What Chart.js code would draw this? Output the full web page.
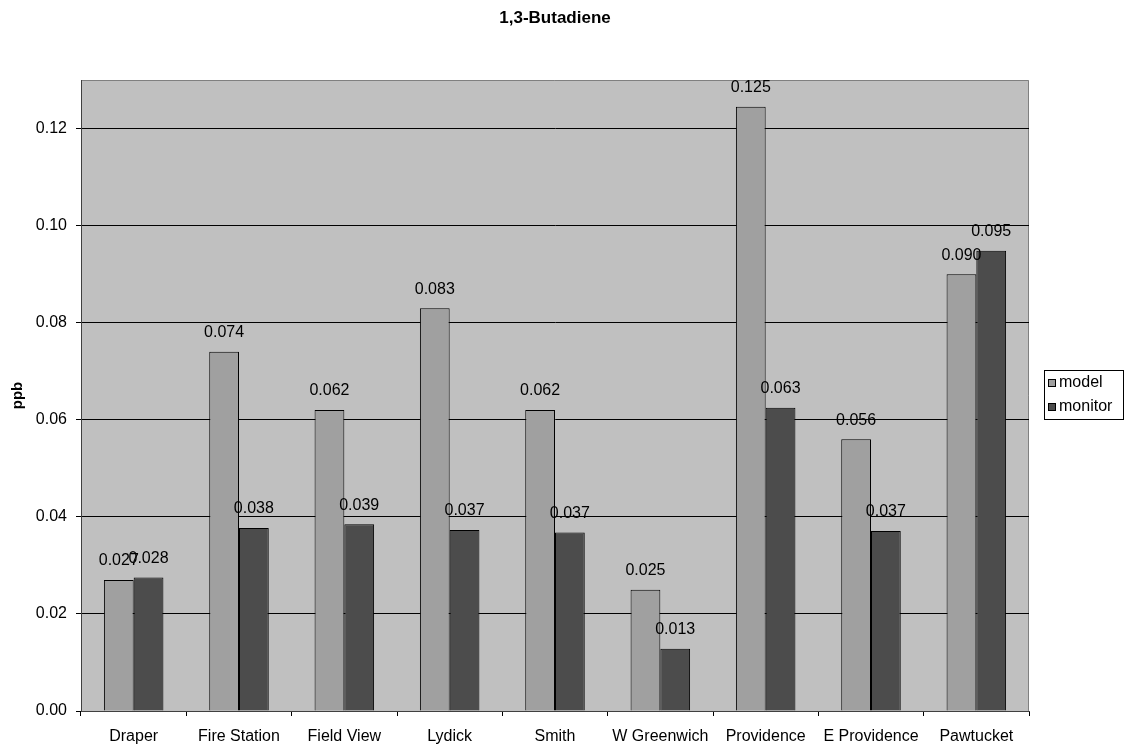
<!DOCTYPE html>
<html>
<head>
<meta charset="utf-8">
<script src="https://cdn.jsdelivr.net/npm/chart.js@4/dist/chart.umd.min.js"></script>
<style>
  html, body { margin: 0; padding: 0; background: #ffffff; }
  #wrap { width: 1127px; height: 746px; }
</style>
</head>
<body>
<div id="wrap"><canvas id="c" width="1127" height="746"></canvas></div>
<script>
const chartTitle = "1,3-Butadiene";
const yAxisTitle = "ppb";
const categories = ["Draper", "Fire Station", "Field View", "Lydick", "Smith", "W Greenwich", "Providence", "E Providence", "Pawtucket"];
const modelValues = [0.027, 0.074, 0.062, 0.083, 0.062, 0.025, 0.1245, 0.056, 0.090];
const monitorValues = [0.0275, 0.0377, 0.0385, 0.0373, 0.0368, 0.0128, 0.0625, 0.0371, 0.0948];
const seriesNames = ["model", "monitor"];
const modelLabels = ["0.027", "0.074", "0.062", "0.083", "0.062", "0.025", "0.125", "0.056", "0.090"];
const monitorLabels = ["0.028", "0.038", "0.039", "0.037", "0.037", "0.013", "0.063", "0.037", "0.095"];

const FONT = "'Liberation Sans', Arial, sans-serif";
const COLORS = ["#a0a0a0", "#4c4c4c"];

const decor = {
  id: 'decor',
  beforeDraw(chart) {
    const {ctx, chartArea: a} = chart;
    ctx.save();
    ctx.fillStyle = '#c0c0c0';
    ctx.fillRect(a.left, a.top, a.right - a.left, a.bottom - a.top);
    ctx.strokeStyle = '#808080';
    ctx.lineWidth = 1;
    ctx.beginPath();
    ctx.moveTo(a.left, a.top + 0.5);
    ctx.lineTo(a.right - 0.5, a.top + 0.5);
    ctx.lineTo(a.right - 0.5, a.bottom);
    ctx.stroke();
    ctx.restore();
  },
  afterDatasetsDraw(chart) {
    const {ctx} = chart;
    ctx.save();
    ctx.font = "16px " + FONT;
    ctx.fillStyle = '#000';
    ctx.textAlign = 'center';
    ctx.textBaseline = 'middle';
    const labelSets = [modelLabels, monitorLabels];
    chart.data.datasets.forEach((ds, di) => {
      const meta = chart.getDatasetMeta(di);
      meta.data.forEach((bar, i) => {
        ctx.fillText(labelSets[di][i], bar.x, bar.y - 19);
      });
    });
    ctx.restore();
  },
  afterDraw(chart) {
    const {ctx, chartArea: a} = chart;
    ctx.save();
    // title
    ctx.fillStyle = '#000';
    ctx.font = "bold 17px " + FONT;
    ctx.textAlign = 'center';
    ctx.textBaseline = 'middle';
    ctx.fillText(chartTitle, (a.left + a.right) / 2, 18);
    // y axis title
    ctx.save();
    ctx.translate(18, (a.top + a.bottom) / 2);
    ctx.rotate(-Math.PI / 2);
    ctx.font = "bold 15px " + FONT;
    ctx.fillText(yAxisTitle, 0, 0);
    ctx.restore();
    // legend
    const lx = 1044, ly = 370, lw = 80, lh = 50;
    ctx.fillStyle = '#ffffff';
    ctx.fillRect(lx, ly, lw, lh);
    ctx.strokeStyle = '#000';
    ctx.lineWidth = 1;
    ctx.strokeRect(lx + 0.5, ly + 0.5, lw - 1, lh - 1);
    ctx.font = "16px " + FONT;
    ctx.textAlign = 'left';
    chart.data.datasets.forEach((ds, i) => {
      const cy = ly + 13 + i * 24;
      ctx.fillStyle = ds.backgroundColor;
      ctx.fillRect(lx + 4, cy - 4, 8, 8);
      ctx.strokeStyle = '#000';
      ctx.strokeRect(lx + 4.5, cy - 3.5, 7, 7);
      ctx.fillStyle = '#000';
      ctx.fillText(ds.label, lx + 15, cy);
    });
    ctx.restore();
  }
};

new Chart(document.getElementById('c'), {
  type: 'bar',
  data: {
    labels: categories,
    datasets: [
      { label: seriesNames[0], data: modelValues, backgroundColor: COLORS[0], borderColor: '#000', borderWidth: 1 },
      { label: seriesNames[1], data: monitorValues, backgroundColor: COLORS[1], borderColor: '#000', borderWidth: 1 }
    ]
  },
  options: {
    responsive: false,
    animation: false,
    devicePixelRatio: 1,
    layout: { padding: { left: 0, top: 80, right: 98, bottom: 0 } },
    datasets: { bar: { categoryPercentage: 0.565, barPercentage: 1.0 } },
    plugins: {
      legend: { display: false },
      title: { display: false },
      tooltip: { enabled: false }
    },
    scales: {
      x: {
        afterFit(scale) { scale.height = 35; },
        grid: { offset: true, drawOnChartArea: false, drawTicks: true, tickLength: 5, color: '#000' },
        border: { display: true, color: '#404040', width: 1 },
        ticks: { color: '#000', font: { family: FONT, size: 16 }, padding: 11, maxRotation: 0, autoSkip: false }
      },
      y: {
        min: 0,
        max: 0.13,
        afterFit(scale) { scale.width = 81; },
        afterBuildTicks(scale) { scale.ticks = scale.ticks.filter(t => t.value <= 0.12000001); },
        grid: { color: '#000', drawTicks: true, tickLength: 5, lineWidth: 1 },
        border: { display: true, color: '#404040', width: 1 },
        ticks: {
          stepSize: 0.02,
          color: '#000',
          padding: 9,
          font: { family: FONT, size: 16 },
          callback: v => Number(v).toFixed(2)
        }
      }
    }
  },
  plugins: [decor]
});
</script>
</body>
</html>
